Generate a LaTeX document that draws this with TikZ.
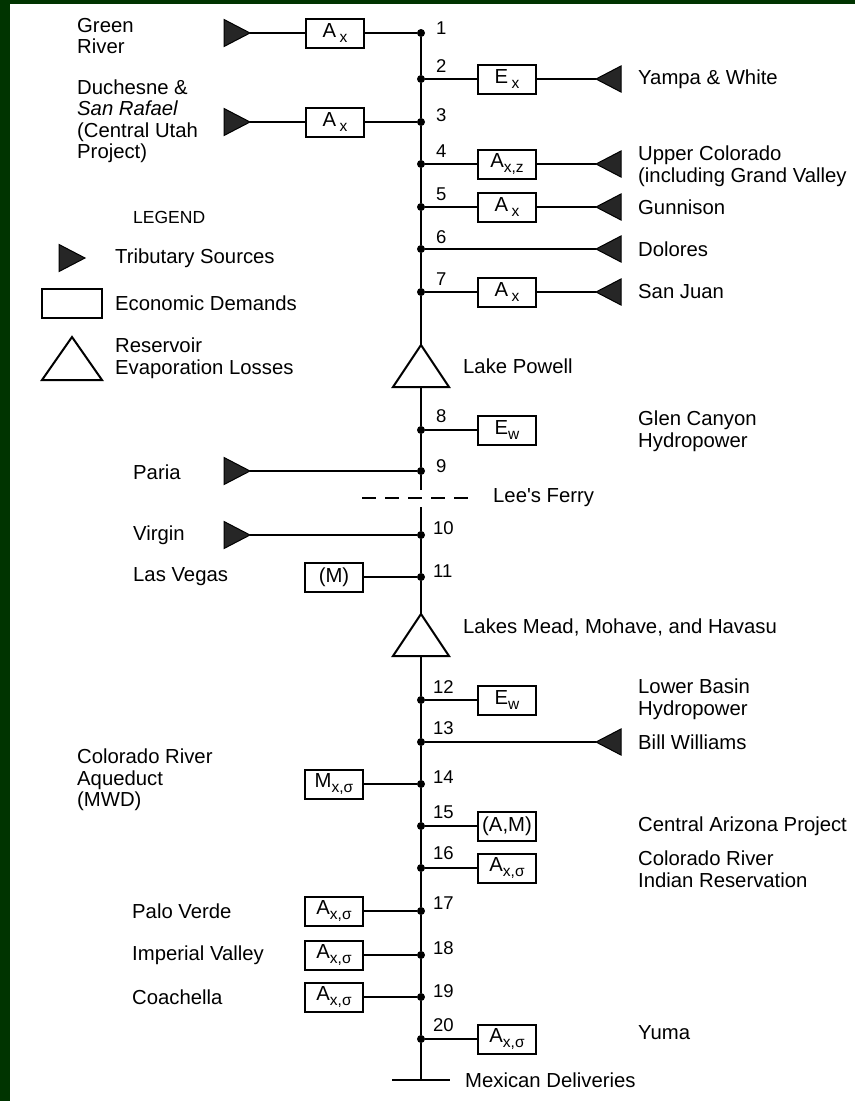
\documentclass[tikz,border=0pt]{standalone}
\usepackage{fontspec}
\setmainfont{Liberation Sans}
\definecolor{bordergreen}{RGB}{0,52,0}
\newcommand\lowsub[1]{\raisebox{-0.4ex}{\fontsize{15.5}{15.5}\selectfont #1}}
\newcommand\srcright[3]{\coordinate (#1) at (#2,#3); \path[src] (#1) -- ++(-26,-13.5) -- ++(0,27) -- cycle;}
\newcommand\srcleft[3]{\coordinate (#1) at (#2,#3); \path[src] (#1) -- ++(25,-13) -- ++(0,26) -- cycle;}
\newcommand\reservoir[4]{\coordinate (#1) at (#3,#4); \coordinate (#2) at (#3,#4+42); \draw[res] (#1) -- ++(28,42) -- ++(-56,0) -- cycle;}
\begin{document}
\begin{tikzpicture}[x=1pt,y=-1pt,
  lbl/.style={anchor=west, align=left, inner sep=0, font=\fontsize{20.3}{21.5}\selectfont},
  num/.style={anchor=west, inner sep=0, font=\fontsize{18.5}{18.5}\selectfont},
  demand/.style={draw, line width=2pt, minimum width=58pt, minimum height=29pt, inner sep=0, font=\fontsize{20.3}{20}\selectfont},
  dot/.style={circle, fill, inner sep=0, minimum size=8pt},
  link/.style={line width=2.1pt},
  river/.style={line width=2.4pt},
  src/.style={fill=black!85, draw=black, line width=1pt, line join=miter},
  res/.style={draw, line width=2pt, line join=miter, fill=white}]
\useasboundingbox (0,0) rectangle (855,1101);
\fill[white] (0,0) rectangle (855,1101);
\fill[bordergreen] (0,0) rectangle (10,1101);
\fill[bordergreen] (0,0) rectangle (855,3.5);

% junction points on the river
\node[dot] (n1) at (421,33) {};
\node[dot] (n2) at (421,79) {};
\node[dot] (n3) at (421,122) {};
\node[dot] (n4) at (421,164) {};
\node[dot] (n5) at (421,207) {};
\node[dot] (n6) at (421,249) {};
\node[dot] (n7) at (421,292) {};
\node[dot] (n8) at (421,430) {};
\node[dot] (n9) at (421,471) {};
\node[dot] (n10) at (421,535) {};
\node[dot] (n11) at (421,577) {};
\node[dot] (n12) at (421,700) {};
\node[dot] (n13) at (421,742) {};
\node[dot] (n14) at (421,784) {};
\node[dot] (n15) at (421,826) {};
\node[dot] (n16) at (421,868) {};
\node[dot] (n17) at (421,911) {};
\node[dot] (n18) at (421,955) {};
\node[dot] (n19) at (421,997) {};
\node[dot] (n20) at (421,1039) {};
\coordinate (mex) at (421,1080);
\coordinate (mexL) at (392,1080);
\coordinate (mexR) at (450,1080);
\coordinate (lfA) at (421,490);
\coordinate (lfB) at (421,507);
\coordinate (lfL) at (362,498);
\coordinate (lfR) at (476,498);

% numbers
\node[num] (k1) at (436,28) {1};
\node[num] (k2) at (436,66) {2};
\node[num] (k3) at (436,115) {3};
\node[num] (k4) at (436,151) {4};
\node[num] (k5) at (436,194) {5};
\node[num] (k6) at (436,237) {6};
\node[num] (k7) at (436,279) {7};
\node[num] (k8) at (436,416) {8};
\node[num] (k9) at (436,466) {9};
\node[num] (k10) at (433,528) {10};
\node[num] (k11) at (433,571) {11};
\node[num] (k12) at (433,687) {12};
\node[num] (k13) at (433,728) {13};
\node[num] (k14) at (433,777) {14};
\node[num] (k15) at (433,812) {15};
\node[num] (k16) at (433,853) {16};
\node[num] (k17) at (433,903) {17};
\node[num] (k18) at (433,948) {18};
\node[num] (k19) at (433,991) {19};
\node[num] (k20) at (433,1025) {20};

% demand boxes
\node[demand] (b1) at (335,33) {A\,\lowsub{x}};
\node[demand] (b3) at (335,122) {A\,\lowsub{x}};
\node[demand] (b2) at (507,79) {E\,\lowsub{x}};
\node[demand] (b4) at (507,164) {A\lowsub{x,z}};
\node[demand] (b5) at (507,207) {A\,\lowsub{x}};
\node[demand] (b7) at (507,292) {A\,\lowsub{x}};
\node[demand] (b8) at (507,430) {E\lowsub{w}};
\node[demand] (b11) at (334,577) {(M)};
\node[demand] (b12) at (507,700) {E\lowsub{w}};
\node[demand] (b14) at (334,784) {M\lowsub{x,σ}};
\node[demand] (b15) at (507,826) {(A,M)};
\node[demand] (b16) at (507,868) {A\lowsub{x,σ}};
\node[demand] (b17) at (334,911) {A\lowsub{x,σ}};
\node[demand] (b18) at (334,955) {A\lowsub{x,σ}};
\node[demand] (b19) at (334,997) {A\lowsub{x,σ}};
\node[demand] (b20) at (507,1039) {A\lowsub{x,σ}};

% tributary sources
\srcright{s1}{250}{33}
\srcright{s3}{250}{122}
\srcright{s9}{250}{471}
\srcright{s10}{250}{535}
\srcleft{s2}{596}{79}
\srcleft{s4}{596}{164}
\srcleft{s5}{596}{207}
\srcleft{s6}{596}{249}
\srcleft{s7}{596}{292}
\srcleft{s13}{596}{742}

% reservoirs
\reservoir{lpT}{lpB}{421}{345}
\reservoir{lmT}{lmB}{421}{614}

% river
\draw[river] (n1) -- (n2) -- (n3) -- (n4) -- (n5) -- (n6) -- (n7) -- (lpT);
\draw[river] (lpB) -- (n8) -- (n9) -- (lfA);
\draw[river] (lfB) -- (n10) -- (n11) -- (lmT);
\draw[river] (lmB) -- (n12) -- (n13) -- (n14) -- (n15) -- (n16) -- (n17) -- (n18) -- (n19) -- (n20) -- (mex);
\draw[river] (mexL) -- (mexR);
\draw[line width=1.8pt, dash pattern=on 14pt off 9pt] (lfL) -- (lfR);

% connectors
\draw[link] (s1) -- (b1) -- (n1);
\draw[link] (s3) -- (b3) -- (n3);
\draw[link] (n2) -- (b2) -- (s2);
\draw[link] (n4) -- (b4) -- (s4);
\draw[link] (n5) -- (b5) -- (s5);
\draw[link] (n6) -- (s6);
\draw[link] (n7) -- (b7) -- (s7);
\draw[link] (n8) -- (b8);
\draw[link] (s9) -- (n9);
\draw[link] (s10) -- (n10);
\draw[link] (b11) -- (n11);
\draw[link] (n12) -- (b12);
\draw[link] (n13) -- (s13);
\draw[link] (b14) -- (n14);
\draw[link] (n15) -- (b15);
\draw[link] (n16) -- (b16);
\draw[link] (b17) -- (n17);
\draw[link] (b18) -- (n18);
\draw[link] (b19) -- (n19);
\draw[link] (n20) -- (b20);

% labels
\node[lbl] (tGreen) at (77,36) {Green\\River};
\node[lbl] (tDuch) at (77,121) {Duchesne \&\\\textit{San Rafael}\\(Central Utah\\Project)};
\node[lbl] (tYampa) at (638,79) {Yampa \& White};
\node[lbl] (tUpper) at (638,166) {Upper Colorado\\(including Grand Valley};
\node[lbl] (tGunn) at (638,207) {Gunnison};
\node[lbl] (tDol) at (638,249) {Dolores};
\node[lbl] (tSanJ) at (638,292) {San Juan};
\node[lbl] (tPowell) at (463,366) {Lake Powell};
\node[lbl] (tGlen) at (638,431) {Glen Canyon\\Hydropower};
\node[lbl] (tParia) at (133,472) {Paria};
\node[lbl] (tLee) at (493,498) {Lee\textquotesingle s Ferry};
\node[lbl] (tVirgin) at (133,535) {Virgin};
\node[lbl] (tVegas) at (133,577) {Las Vegas};
\node[lbl] (tMead) at (463,627) {Lakes Mead, Mohave, and Havasu};
\node[lbl] (tLower) at (638,699) {Lower Basin\\Hydropower};
\node[lbl] (tBill) at (638,742) {Bill Williams};
\node[lbl] (tAq) at (77,780) {Colorado River\\Aqueduct\\(MWD)};
\node[lbl] (tCAP) at (638,826) {Central Arizona Project};
\node[lbl] (tCRIR) at (638,869) {Colorado River\\Indian Reservation};
\node[lbl] (tPalo) at (132,911) {Palo Verde};
\node[lbl] (tImp) at (132,955) {Imperial Valley};
\node[lbl] (tCoach) at (132,997) {Coachella};
\node[lbl] (tYuma) at (638,1033) {Yuma};
\node[lbl] (tMex) at (465,1080) {Mexican Deliveries};

% legend
\node[lbl, font=\fontsize{17.5}{18}\selectfont] (tLegend) at (133,217) {LEGEND};
\srcright{lgS}{85}{258}
\node[lbl] (tTrib) at (115,258) {Tributary Sources};
\node[draw, line width=2pt, minimum width=60pt, minimum height=29pt, inner sep=0] (lgB) at (72,303) {};
\node[lbl] (tEcon) at (115,303) {Economic Demands};
\coordinate (lgRT) at (72,337);
\draw[res] (lgRT) -- ++(30,43) -- ++(-60,0) -- cycle;
\node[lbl] (tRes) at (115,358) {Reservoir\\Evaporation Losses};
\end{tikzpicture}
\end{document}
